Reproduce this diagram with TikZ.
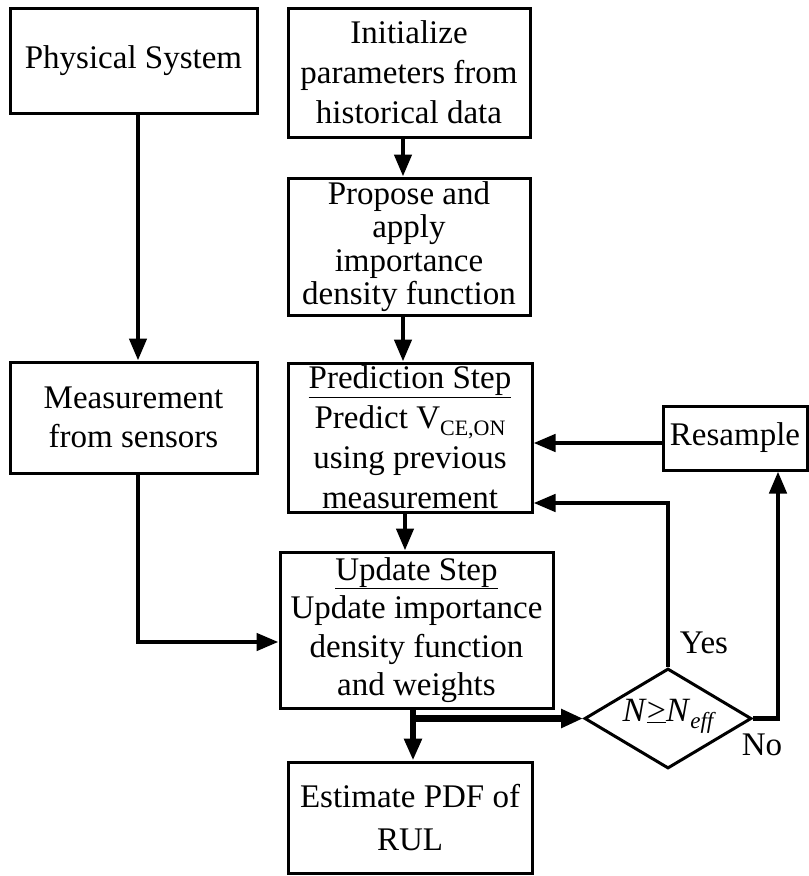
\documentclass[tikz,border=0pt]{standalone}
\usepackage{fontspec}
\setmainfont{Liberation Serif}
\usetikzlibrary{arrows.meta,shapes.geometric}
\begin{document}
\begin{tikzpicture}[x=1pt,y=-1pt,
  box/.style={draw, line width=3pt, align=center, inner sep=0pt},
  fA/.style={font=\fontsize{33}{40}\selectfont},
  fB/.style={font=\fontsize{33}{33.5}\selectfont},
  fC/.style={font=\fontsize{33}{38.5}\selectfont},
  fD/.style={font=\fontsize{33}{43}\selectfont},
  lbl/.style={font=\fontsize{33}{33}\selectfont, inner sep=0pt},
  conn/.style={line width=4.5pt, -{Triangle[length=22pt,width=17pt]}},
  wide/.style={line width=6.5pt},
  widearr/.style={line width=6.5pt, -{Triangle[length=22pt,width=18pt]}}]
\useasboundingbox (0,0) rectangle (809,876);

\node[box, fA, minimum width=247pt, minimum height=105pt] (phys) at (133.5,60.5) {Physical System};
\node[box, fA, minimum width=242pt, minimum height=129pt] (init) at (409,72.5) {Initialize\\parameters from\\historical data};
\node[box, fB, minimum width=242pt, minimum height=137pt] (prop) at (409,246.5) {Propose and\\apply\\importance\\density function};
\node[box, fA, minimum width=244pt, minimum height=149pt] (pred) at (410,437.5) {\underline{Prediction Step}\\Predict V\raisebox{-0.45ex}{\fontsize{22}{22}\selectfont CE,ON}\\using previous\\measurement};
\node[box, fC, minimum width=247pt, minimum height=111pt] (meas) at (133.5,417.5) {Measurement\\from sensors};
\node[box, fC, minimum width=273pt, minimum height=156pt] (upd) at (416.5,630) {\underline{Update Step}\\Update importance\\density function\\and weights};
\node[box, fD, minimum width=244pt, minimum height=111pt] (est) at (410,817.5) {Estimate PDF of\\RUL};
\node[box, fA, minimum width=144pt, minimum height=64pt] (res) at (735,438) {Resample};
\node[draw, diamond, line width=3pt, minimum width=167pt, minimum height=100pt, aspect=1.67, inner sep=0pt] (dec) at (668,718.5) {};
\node[font=\fontsize{34}{34}\selectfont, inner sep=0pt] (dectext) at (668,716) {\textit{N}\underline{>}\textit{N}\raisebox{-0.45ex}{\fontsize{23}{23}\selectfont\itshape eff}};
\node[lbl] (yes) at (704,643) {Yes};
\node[lbl] (no) at (762,745) {No};
\coordinate (br) at (413,718.5);

\draw[conn] ([xshift=4.5pt]phys.south) -- ([xshift=4.5pt]meas.north);
\draw[conn] ([xshift=-6pt]init.south) -- ([xshift=-6pt]prop.north);
\draw[conn] ([xshift=-6pt]prop.south) -- ([xshift=-6pt]prop.south |- pred.north);
\draw[conn] ([xshift=-5pt]pred.south) -- ([xshift=-5pt]pred.south |- upd.north);
\draw[conn] ([xshift=4.5pt]meas.south) |- ([yshift=-12pt]upd.west);
\draw[wide] (br |- upd.south) -- (br);
\draw[conn, line width=5.5pt] (br) -- (br |- est.north);
\draw[widearr] (br) -- (dec.west);
\draw[conn] (dec.north) |- ([yshift=-65.5pt]pred.east);
\draw[conn] (dec.east) -| ([xshift=43pt]res.south);
\draw[conn] ([yshift=-5pt]res.west) -- ([yshift=-5pt]res.west -| pred.east);
\end{tikzpicture}
\end{document}
